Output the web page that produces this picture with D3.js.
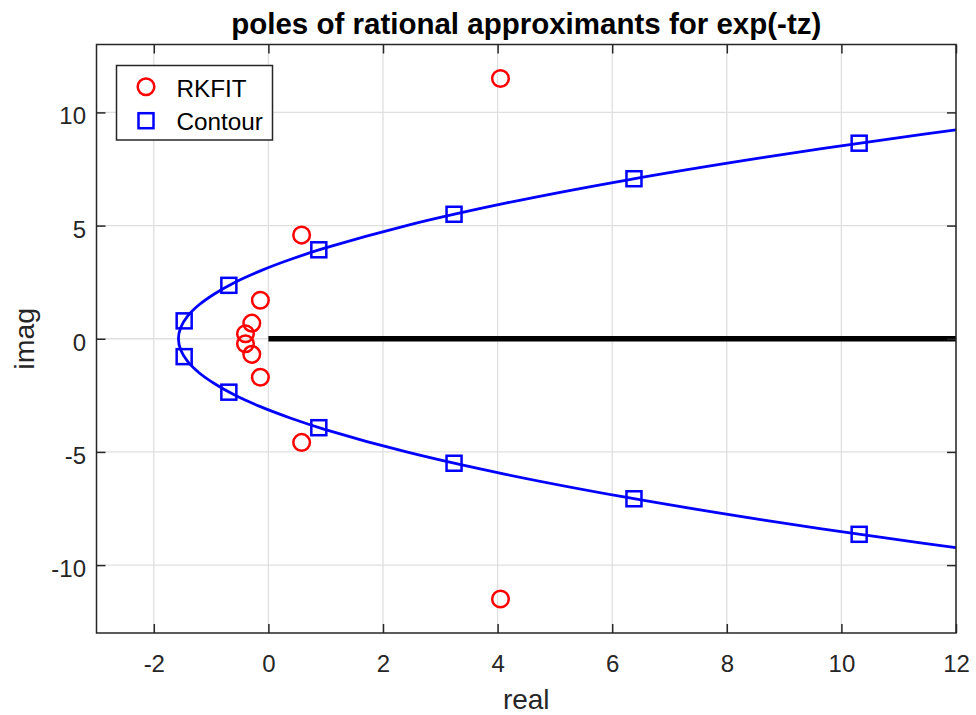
<!DOCTYPE html>
<html>
<head>
<meta charset="utf-8">
<script src="https://cdn.jsdelivr.net/npm/d3@7"></script>
<style>
  html, body { margin: 0; padding: 0; background: #fff; }
  svg { display: block; font-family: "Liberation Sans", Arial, Helvetica, sans-serif; }
</style>
</head>
<body>
<svg id="chart" width="976" height="715"></svg>
<script>
// ---- data ----
const xTicks = [-2, 0, 2, 4, 6, 8, 10, 12];
const yTicks = [-10, -5, 0, 5, 10];

// RKFIT poles (circles)
const rkfitReal = [4.05, 4.05, 0.58, 0.58, -0.14, -0.14, -0.29, -0.29, -0.40, -0.40];
const rkfitImag = [11.5, -11.5, 4.58, -4.58, 1.70, -1.70, 0.69, -0.69, 0.22, -0.22];

// Contour quadrature poles (squares)
const contourReal = [-1.47, -1.47, -0.69, -0.69, 0.88, 0.88, 3.24, 3.24, 6.38, 6.38, 10.31, 10.31];
const contourImag = [0.79, -0.79, 2.36, -2.36, 3.93, -3.93, 5.50, -5.50, 7.07, -7.07, 8.64, -8.64];

const curveReal = [12.0, 11.32, 8.62, 6.23, 4.16, 2.41, 0.98, 0.38, -0.14, -0.58, -0.93, -1.21, -1.41, -1.53, -1.57,
                   -1.53, -1.41, -1.21, -0.93, -0.58, -0.14, 0.38, 0.98, 2.41, 4.16, 6.23, 8.62, 11.32, 12.0];
const curveImag = [-9.23, -9.0, -8.0, -7.0, -6.0, -5.0, -4.0, -3.5, -3.0, -2.5, -2.0, -1.5, -1.0, -0.5, 0.0,
                   0.5, 1.0, 1.5, 2.0, 2.5, 3.0, 3.5, 4.0, 5.0, 6.0, 7.0, 8.0, 9.0, 9.23];

// Branch cut (thick black line)
const cutReal = [0, 12];
const cutImag = [0, 0];

const xDomain = [-3, 12];
const yDomain = [-13, 13];

// ---- layout ----
const svg = d3.select("#chart");
const L = 96.5, R = 956, T = 44.5, B = 633;
const x = d3.scaleLinear().domain(xDomain).range([L, R]);
const y = d3.scaleLinear().domain(yDomain).range([B, T]);
const axisColor = "#262626";
const gridColor = "#dfdfdf";
const FONT = '"Liberation Sans", Arial, Helvetica, sans-serif';

// grid
const grid = svg.append("g");
grid.selectAll("line.gx").data(xTicks).join("line")
  .attr("x1", d => x(d)).attr("x2", d => x(d)).attr("y1", T).attr("y2", B)
  .attr("stroke", gridColor).attr("stroke-width", 1.3);
grid.selectAll("line.gy").data(yTicks).join("line")
  .attr("y1", d => y(d)).attr("y2", d => y(d)).attr("x1", L).attr("x2", R)
  .attr("stroke", gridColor).attr("stroke-width", 1.3);

// clip
svg.append("clipPath").attr("id", "clip").append("rect")
  .attr("x", L).attr("y", T).attr("width", R - L).attr("height", B - T);

const plot = svg.append("g").attr("clip-path", "url(#clip)");

// contour curve
const curvePts = curveReal.map((r, i) => [r, curveImag[i]]);
plot.append("path")
  .attr("d", d3.line().x(d => x(d[0])).y(d => y(d[1])).curve(d3.curveCatmullRom)(curvePts))
  .attr("fill", "none").attr("stroke", "#0000ff").attr("stroke-width", 2.8);

// branch cut
plot.append("path")
  .attr("d", d3.line().x(d => x(d[0])).y(d => y(d[1]))(cutReal.map((r, i) => [r, cutImag[i]])))
  .attr("stroke", "#000").attr("stroke-width", 5.3).attr("fill", "none");

// squares
const sq = 15;
plot.selectAll("rect.sq").data(contourReal.map((r, i) => [r, contourImag[i]])).join("rect")
  .attr("x", d => x(d[0]) - sq / 2).attr("y", d => y(d[1]) - sq / 2)
  .attr("width", sq).attr("height", sq)
  .attr("fill", "none").attr("stroke", "#0000ff").attr("stroke-width", 2.5);

// circles
plot.selectAll("circle.rk").data(rkfitReal.map((r, i) => [r, rkfitImag[i]])).join("circle")
  .attr("cx", d => x(d[0])).attr("cy", d => y(d[1])).attr("r", 8.3)
  .attr("fill", "none").attr("stroke", "#ff0000").attr("stroke-width", 2.5);

// axes box
const tickLen = 9;
svg.append("rect").attr("x", L).attr("y", T).attr("width", R - L).attr("height", B - T)
  .attr("fill", "none").attr("stroke", axisColor).attr("stroke-width", 1.5);

const fmt = d => String(d);
const xAxis = d3.axisBottom(x).tickValues(xTicks).tickSizeInner(-tickLen).tickSizeOuter(0).tickPadding(22).tickFormat(fmt);
const gx = svg.append("g").attr("transform", `translate(0,${B})`).call(xAxis);
const xAxisTop = d3.axisTop(x).tickValues(xTicks).tickSizeInner(-tickLen).tickSizeOuter(0).tickFormat("");
const gxt = svg.append("g").attr("transform", `translate(0,${T})`).call(xAxisTop);
const yAxis = d3.axisLeft(y).tickValues(yTicks).tickSizeInner(-tickLen).tickSizeOuter(0).tickPadding(10.5).tickFormat(fmt);
const gy = svg.append("g").attr("transform", `translate(${L},0)`).call(yAxis);
const yAxisRight = d3.axisRight(y).tickValues(yTicks).tickSizeInner(-tickLen).tickSizeOuter(0).tickFormat("");
const gyr = svg.append("g").attr("transform", `translate(${R},0)`).call(yAxisRight);

[gx, gxt, gy, gyr].forEach(g => {
  g.select(".domain").remove();
  g.selectAll(".tick line").attr("stroke", axisColor).attr("stroke-width", 1.5);
  g.selectAll(".tick text").attr("fill", axisColor).style("font-size", "24px").style("font-family", FONT);
});
gx.selectAll(".tick text").attr("dy", "0.71em");
gy.selectAll(".tick text").attr("dy", "0.48em");

// labels
svg.append("text").attr("x", (L + R) / 2).attr("y", 708.5).attr("text-anchor", "middle")
  .attr("fill", axisColor).style("font-size", "28px").text("real");
svg.append("text").attr("transform", `translate(34,${(T + B) / 2}) rotate(-90)`).attr("text-anchor", "middle")
  .attr("fill", axisColor).style("font-size", "28.5px").text("imag");
svg.append("text").attr("x", (L + R) / 2).attr("y", 33.5).attr("text-anchor", "middle")
  .attr("fill", "#000").style("font-size", "29.5px").style("font-weight", "bold")
  .text("poles of rational approximants for exp(-tz)");

// legend
const lg = svg.append("g");
lg.append("rect").attr("x", 116.5).attr("y", 65.5).attr("width", 156).attr("height", 74.5)
  .attr("fill", "#fff").attr("stroke", axisColor).attr("stroke-width", 1.5);
lg.append("circle").attr("cx", 146).attr("cy", 86.7).attr("r", 8.3)
  .attr("fill", "none").attr("stroke", "#ff0000").attr("stroke-width", 2.5);
lg.append("rect").attr("x", 146 - sq / 2).attr("y", 120.7 - sq / 2).attr("width", sq).attr("height", sq)
  .attr("fill", "none").attr("stroke", "#0000ff").attr("stroke-width", 2.5);
lg.append("text").attr("x", 176.5).attr("y", 96.5).attr("fill", "#000").style("font-size", "24.3px").text("RKFIT");
lg.append("text").attr("x", 176.5).attr("y", 129.5).attr("fill", "#000").style("font-size", "24.3px").text("Contour");
</script>
</body>
</html>
